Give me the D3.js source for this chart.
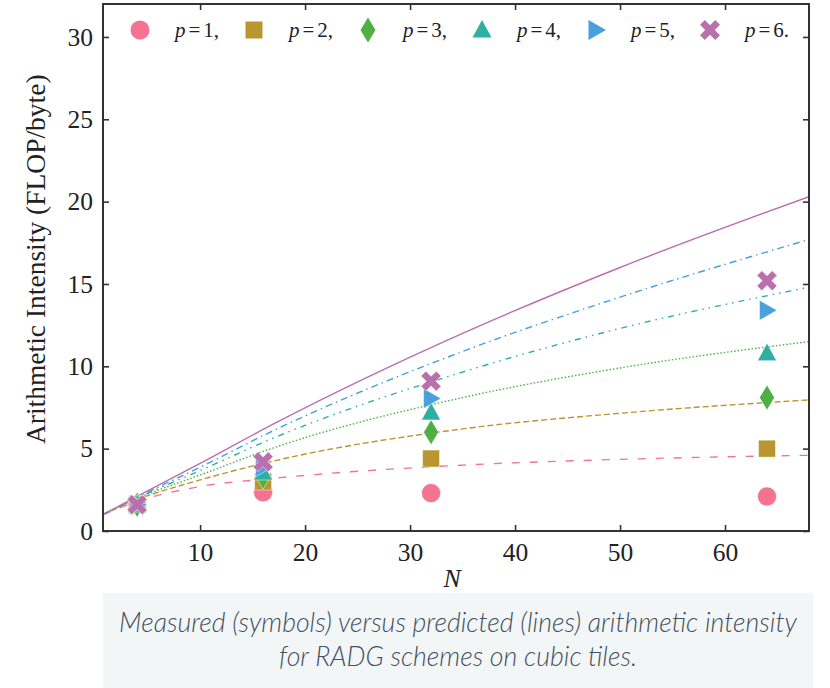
<!DOCTYPE html>
<html>
<head>
<meta charset="utf-8">
<script src="https://cdn.jsdelivr.net/npm/d3@7"></script>
<style>
  body { margin: 0; background: #fff; }
  .caption { position: absolute; left: 103px; top: 593px; width: 710px; height: 95px;
    background: #f2f6f7; color: #46505e; font-family: Lato, sans-serif; font-style: italic;
    font-weight: 300; font-size: 26.7px; line-height: 34px; text-align: center; padding-top: 12px;
    box-sizing: border-box; }
</style>
</head>
<body>
<div id="chart"></div>
<div class="caption">Measured (symbols) versus predicted (lines) arithmetic intensity<br>for RADG schemes on cubic tiles.</div>
<script>
// measured values (symbols)
var measN = [4, 16, 32, 64];
var meas1 = [1.6, 2.35, 2.3, 2.1];
var meas2 = [1.6, 3.0, 4.4, 5.0];
var meas3 = [1.6, 3.3, 6.0, 8.1];
var meas4 = [1.6, 3.55, 7.2, 10.8];
var meas5 = [1.6, 3.9, 8.05, 13.4];
var meas6 = [1.6, 4.2, 9.1, 15.2];

// predicted values (lines)
var predN = [0.75, 4, 10, 17, 35, 50, 68];
var pred1 = [1.0, 1.8, 2.7, 3.2, 4.0, 4.35, 4.6];
var pred2 = [1.0, 1.9, 3.1, 4.25, 6.2, 7.15, 7.96];
var pred3 = [1.0, 1.97, 3.4, 5.05, 8.1, 9.9, 11.5];
var pred4 = [1.0, 2.0, 3.67, 5.65, 9.65, 12.3, 14.8];
var pred5 = [1.0, 2.05, 3.87, 6.1, 10.9, 14.2, 17.7];
var pred6 = [1.0, 2.1, 4.1, 6.5, 12.0, 16.0, 20.3];

var labels = ["1", "2", "3", "4", "5", "6"];
var colors = ["#f47390", "#b9962f", "#4fae44", "#2eafa3", "#48a0dc", "#bb70ae"];
var dashes = ["8,10", "6,3", "1.5,2", "6,5,1.5,5,1.5,5", "7,4,1.5,4", null];
var xTicks = [10, 20, 30, 40, 50, 60];
var yTicks = [0, 5, 10, 15, 20, 25, 30];

var meas = [meas1, meas2, meas3, meas4, meas5, meas6];
var pred = [pred1, pred2, pred3, pred4, pred5, pred6];

var W = 830, H = 688;
var margin = {top: 4, right: 21, bottom: 157, left: 103};
var width = W - margin.left - margin.right,
    height = H - margin.top - margin.bottom;

var svg = d3.select("#chart").append("svg")
    .attr("width", W).attr("height", H)
    .style("position", "absolute").style("left", 0).style("top", 0);
var g = svg.append("g").attr("transform", "translate(" + margin.left + "," + margin.top + ")");

var x = d3.scaleLinear().domain([0.75, 68]).range([0, width]);
var y = d3.scaleLinear().domain([0, 32]).range([height, 0]);

var font = "Times New Roman, Liberation Serif, serif";

// axes with inward ticks on all sides
function styleAxis(sel) {
  sel.select(".domain").remove();
  sel.selectAll(".tick line").attr("stroke", "#333").attr("stroke-width", 1.6);
  sel.selectAll(".tick text").attr("font-family", font).attr("font-size", 25.5).attr("fill", "#222");
}
g.append("g").attr("transform", "translate(0," + height + ")")
  .call(d3.axisBottom(x).tickValues(xTicks).tickSizeInner(-6).tickSizeOuter(0).tickPadding(12))
  .call(styleAxis);
g.append("g")
  .call(d3.axisTop(x).tickValues(xTicks).tickSizeInner(-6).tickSizeOuter(0).tickFormat(""))
  .call(styleAxis);
g.append("g")
  .call(d3.axisLeft(y).tickValues(yTicks).tickSizeInner(-6).tickSizeOuter(0).tickPadding(10))
  .call(styleAxis);
g.append("g").attr("transform", "translate(" + width + ",0)")
  .call(d3.axisRight(y).tickValues(yTicks).tickSizeInner(-6).tickSizeOuter(0).tickFormat(""))
  .call(styleAxis);

// prediction lines
var line = d3.line()
  .x(function(d) { return x(d[0]); })
  .y(function(d) { return y(d[1]); })
  .curve(d3.curveMonotoneX);

var clip = g.append("clipPath").attr("id", "clip").append("rect")
  .attr("width", width).attr("height", height);

for (var i = 0; i < 6; i++) {
  g.append("path")
    .datum(predN.map(function(n, k) { return [n, pred[i][k]]; }))
    .attr("clip-path", "url(#clip)")
    .attr("fill", "none")
    .attr("stroke", colors[i])
    .attr("stroke-width", 1.4)
    .attr("stroke-dasharray", dashes[i])
    .attr("d", line);
}

// marker shapes
function marker(k) {
  if (k == 0) return d3.symbol(d3.symbolCircle, Math.PI * 9.5 * 9.5)();
  if (k == 1) return "M-8.5,-8.5H8.5V8.5H-8.5Z";
  if (k == 2) return "M0,-12.5L7.5,0L0,12.5L-7.5,0Z";
  if (k == 3) return "M0,-10L9.5,7.5H-9.5Z";
  if (k == 4) return "M10,0L-7.5,-10V10Z";
  var a = 4.8, b = 10;
  return "M" + (-b) + "," + (-b + a) + "L" + (-b + a) + "," + (-b) + "L0," + (-a) + "L" + (b - a) + "," + (-b) +
    "L" + b + "," + (-b + a) + "L" + a + ",0L" + b + "," + (b - a) + "L" + (b - a) + "," + b +
    "L0," + a + "L" + (-b + a) + "," + b + "L" + (-b) + "," + (b - a) + "L" + (-a) + ",0Z";
}

for (var i = 0; i < 6; i++) {
  g.selectAll(".m" + i)
    .data(measN.map(function(n, k) { return [n, meas[i][k]]; }))
    .enter().append("path")
    .attr("class", "m" + i)
    .attr("transform", function(d) { return "translate(" + x(d[0]) + "," + y(d[1]) + ")"; })
    .attr("d", marker(i))
    .attr("fill", colors[i])
    .attr("stroke", "#fff").attr("stroke-width", 0.5);
}

// frame
g.append("rect").attr("width", width).attr("height", height)
  .attr("fill", "none").attr("stroke", "#333").attr("stroke-width", 2);

// legend
var leg = g.selectAll(".leg").data(labels).enter().append("g")
  .attr("class", "leg")
  .attr("transform", function(d, i) { return "translate(" + (37 + i * 114) + ",26)"; });
leg.append("path")
  .attr("d", function(d, i) { return marker(i); })
  .attr("fill", function(d, i) { return colors[i]; });
var lt = leg.append("text").attr("x", 35).attr("y", 7)
  .attr("font-family", font).attr("font-size", 21).attr("fill", "#222");
lt.append("tspan").attr("font-style", "italic").text("p");
lt.append("tspan").attr("dx", 3).text("=");
lt.append("tspan").attr("dx", 3).text(function(d, i) { return d + (i < 5 ? "," : "."); });

// axis titles
g.append("text")
  .attr("x", x(34)).attr("y", height + 56)
  .attr("text-anchor", "middle")
  .attr("font-family", font).attr("font-style", "italic").attr("font-size", 26).attr("fill", "#222")
  .text("N");
g.append("text")
  .attr("transform", "rotate(-90)")
  .attr("x", -(y(16.5))).attr("y", -58)
  .attr("text-anchor", "middle")
  .attr("font-family", font).attr("font-size", 27.5).attr("fill", "#222")
  .text("Arithmetic Intensity (FLOP/byte)");
</script>
</body>
</html>
